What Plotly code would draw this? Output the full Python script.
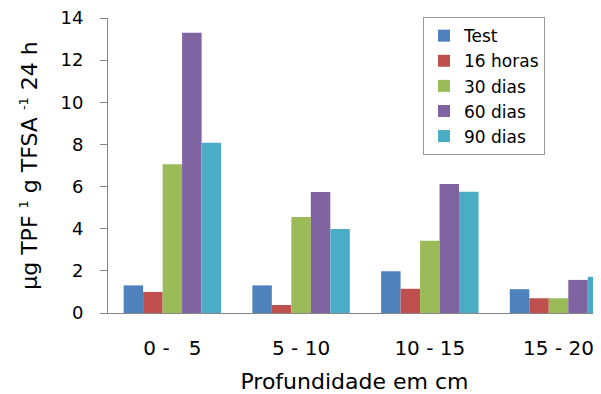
import plotly.graph_objects as go

categories = ["0 -\u00a0\u00a0 5", "5 - 10", "10 - 15", "15 - 20"]
series_names = ["Test", "16 horas", "30 dias", "60 dias", "90 dias"]
test_vals = [1.31, 1.31, 1.98, 1.13]
h16_vals = [1.00, 0.38, 1.15, 0.70]
d30_vals = [7.06, 4.56, 3.43, 0.70]
d60_vals = [13.30, 5.74, 6.12, 1.57]
d90_vals = [8.08, 3.99, 5.76, 1.72]
colors = ["#4F81BD", "#C0504D", "#9BBB59", "#8064A2", "#4BACC6"]
y_ticks = [0, 2, 4, 6, 8, 10, 12, 14]

FONT = "DejaVu Sans"
fig = go.Figure()
for name, vals, col in zip(series_names, [test_vals, h16_vals, d30_vals, d60_vals, d90_vals], colors):
    fig.add_trace(go.Bar(name=name, x=list(range(len(categories))), y=vals,
                         marker=dict(color=col, line=dict(width=0))))

sup = "<sup><span style='font-size:13px'>{}</span></sup>"
# page body has an 8px margin, so the figure is sized to fill the rest of the window
fig.update_layout(
    width=593, height=386,
    margin=dict(l=100, r=0, t=10, b=81, autoexpand=False),
    paper_bgcolor="white", plot_bgcolor="white",
    barmode="group", bargap=0.243, bargroupgap=0,
    font=dict(family=FONT, color="black"),
    showlegend=True,
    legend=dict(x=0.639, y=1.003, xanchor="left", yanchor="top",
                bordercolor="#9A9A9A", borderwidth=1, bgcolor="white",
                font=dict(size=17, family=FONT), entrywidth=119, entrywidthmode="pixels"),
    xaxis=dict(range=[-0.5, 3.33], tickvals=list(range(len(categories))), ticktext=categories,
               showline=True, linecolor="#868686", linewidth=1, ticks="", showgrid=False,
               zeroline=False, automargin=False, ticklabeloverflow="allow",
               tickfont=dict(size=20, family=FONT), ticklabelstandoff=17,
               title=dict(text="Profundidade em cm", font=dict(size=22, family=FONT), standoff=14)),
    yaxis=dict(range=[0, 14], tickvals=y_ticks, showline=True, linecolor="#868686", linewidth=1,
               ticks="outside", ticklen=7, tickcolor="#868686", showgrid=False, zeroline=False,
               automargin=False, ticklabeloverflow="allow",
               tickfont=dict(size=18, family=FONT), ticklabelstandoff=13,
               title=dict(text="µg TPF " + sup.format("1") + " g TFSA " + sup.format("-1") + " 24 h",
                          font=dict(size=22, family=FONT), standoff=16)),
)
fig.write_html("out.html")
